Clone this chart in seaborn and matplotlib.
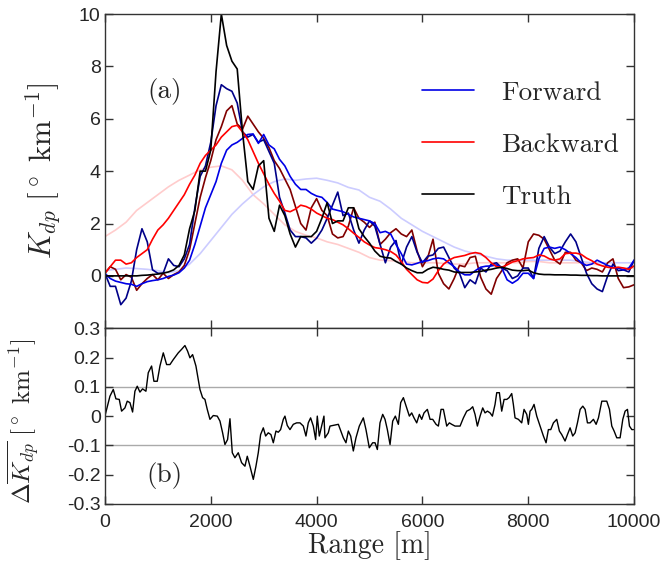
import numpy as np
import seaborn as sns
from matplotlib import pyplot as plt
from matplotlib.lines import Line2D

# values
range_m = np.arange(0, 10001, 100)
range_smooth = np.arange(0, 10001, 200)

truth = [0, 0, 0, 0, 0, 0, 0, 0.02, 0.03, 0.05,
         0.07, 0.1, 0.15, 0.23, 0.4, 0.8, 1.8, 2.5, 4.0, 4.0,
         4.8, 7.8, 10.0, 8.8, 8.2, 7.9, 5.5, 3.6, 3.3, 4.2,
         4.4, 2.2, 1.7, 2.7, 2.3, 1.6, 1.1, 1.5, 1.5, 1.5,
         1.7, 2.2, 2.8, 2.0, 2.1, 2.1, 2.6, 2.6, 1.8, 1.5,
         1.25, 0.95, 0.75, 0.7, 0.68, 0.55, 0.45, 0.3, 0.2, 0.12,
         0.12, 0.25, 0.33, 0.3, 0.25, 0.22, 0.15, 0.13, 0.13, 0.13,
         0.15, 0.17, 0.22, 0.25, 0.3, 0.33, 0.28, 0.22, 0.2, 0.2,
         0.22, 0.12, 0.07, 0.05, 0.05, 0.04, 0.04, 0.04, 0.03, 0.03,
         0.02, 0.02, 0.01, 0.01, 0, 0, 0, 0, 0, 0,
         0]

forward = [0.1, -0.1, -0.2, -0.25, -0.3, -0.32, -0.4, -0.3, -0.22, -0.18,
           -0.15, -0.1, -0.02, 0.03, 0.12, 0.3, 0.6, 1.2, 1.9, 2.6,
           3.1, 3.6, 4.3, 4.8, 5.0, 5.1, 5.25, 5.4, 5.42, 5.06,
           5.4, 5.0, 4.85, 4.45, 4.2, 3.8, 3.5, 3.3, 3.3, 3.15,
           3.05, 3.0, 2.8, 2.55, 2.5, 2.45, 2.35, 2.25, 2.2, 2.15,
           2.1, 2.0, 1.65, 1.7, 1.6, 1.2, 0.85, 0.45, 0.42, 0.48,
           0.55, 0.58, 0.65, 0.68, 0.65, 0.5, 0.35, 0.15, 0.04, 0.04,
           0.2, 0.33, 0.37, 0.38, 0.42, 0.3, -0.15, -0.28, -0.15, 0.1,
           0.1, -0.1, 0.65, 1.05, 1.1, 1.05, 1.1, 1.0, 0.85, 0.7,
           0.5, 0.4, 0.45, 0.6, 0.5, 0.4, 0.32, 0.3, 0.23, 0.3,
           0.6]

backward = [0.1, 0.35, 0.6, 0.6, 0.45, 0.5, 0.7, 0.85, 1.0, 1.4,
            1.75, 1.95, 2.2, 2.5, 2.8, 3.1, 3.5, 3.85, 4.3, 4.6,
            4.8, 5.0, 5.3, 5.5, 5.7, 5.75, 5.5, 5.2, 4.75, 4.3,
            3.9, 3.5, 3.15, 2.85, 2.5, 2.45, 2.55, 2.7, 2.65, 2.55,
            2.4, 2.3, 2.2, 2.15, 2.05, 1.95, 1.8, 1.63, 1.47, 1.3,
            1.18, 1.08, 1.05, 1.0, 0.93, 0.8, 0.55, 0.25, 0.05, -0.15,
            -0.25, -0.27, -0.12, 0.2, 0.45, 0.6, 0.7, 0.74, 0.78, 0.85,
            0.89, 0.85, 0.7, 0.5, 0.35, 0.33, 0.42, 0.53, 0.58, 0.65,
            0.68, 0.7, 0.8, 0.76, 0.65, 0.6, 0.65, 0.85, 0.87, 0.87,
            0.82, 0.68, 0.58, 0.45, 0.38, 0.33, 0.3, 0.33, 0.3, 0.25,
            0.38]

fwd_noisy = [0.1, -0.4, -0.4, -1.1, -0.85, -0.2, 1.0, 1.8, 1.3, 0.23,
             0.1, 0.1, 0.65, 0.4, 0.35, 0.65, 1.2, 2.6, 3.8, 4.2,
             5.1, 6.5, 7.3, 7.15, 7.05, 6.6, 5.5, 5.3, 5.4, 5.1,
             5.2, 4.75, 4.3, 3.0, 2.4, 1.75, 1.5, 1.5, 1.45, 1.25,
             1.44, 1.75, 2.2, 2.7, 3.2, 2.3, 2.4, 1.75, 1.25, 1.75,
             2.1, 1.9, 1.2, 0.5, 1.1, 1.35, 0.45, 1.1, 1.5, 0.9,
             0.5, 0.75, 0.8, 1.05, 1.1, 0.7, 0.3, 0.1, -0.45, -0.15,
             -0.3, 0.3, 0.15, 0.45, 0.5, 0.3, 0.2, -0.1, 0.0, 0.3,
             0.3, -0.1, 1.05, 1.5, 1.1, 0.85, 0.95, 1.3, 1.6, 1.3,
             0.7, 0.1, -0.3, -0.5, -0.6, 0.0, 0.45, 0.2, 0.23, 0.15,
             0.6]

bwd_noisy = [0.1, 0.35, 0.25, -0.15, 0.05, -0.05, -0.55, -0.3, -0.1, 0.05,
             -0.15, 0.1, -0.1, 0.05, 0.15, 0.4, 1.0, 2.0, 3.0, 3.75,
             4.4, 5.2, 5.7, 6.3, 6.5, 5.8, 5.6, 6.1, 5.8, 5.5,
             5.25, 4.9, 4.4, 4.1, 3.7, 3.3, 2.65, 2.0, 1.75, 2.6,
             2.95, 2.5, 2.3, 1.6, 1.45, 1.5, 1.9, 2.6, 2.2, 2.05,
             1.85, 2.05, 1.2, 1.4, 1.65, 1.8, 1.6, 1.5, 1.75, 0.95,
             0.35, 0.7, 1.4, 0.1, -0.3, -0.5, -0.1, 0.4, 0.35, 0.7,
             0.75, -0.05, -0.5, -0.7, -0.1, 0.2, 0.5, 0.6, 0.65, 0.3,
             1.3, 1.6, 1.55, 1.4, 1.0, 0.6, 0.45, 0.9, 0.9, 0.6,
             0.5, 0.2, 0.3, 0.25, 0.15, 0.5, 0.65, -0.1, -0.45, -0.42,
             -0.34]

bwd_prior = [1.5, 1.75, 2.05, 2.5, 2.8,
             3.1, 3.4, 3.65, 3.85, 4.05,
             4.15, 4.2, 4.05, 3.65, 3.1,
             2.75, 2.35, 1.95, 1.7, 1.55,
             1.45, 1.3, 1.2, 1.05, 0.9,
             0.7, 0.6, 0.58, 0.55, 0.5,
             0.5, 0.5, 0.48, 0.45, 0.45,
             0.5, 0.5, 0.5, 0.5, 0.5,
             0.55, 0.55, 0.5, 0.5, 0.5,
             0.5, 0.45, 0.4, 0.35, 0.3,
             0.3]

fwd_prior = [0.2, 0.25, 0.3, 0.28, 0.25,
             0.2, 0.12, 0.2, 0.45, 0.85,
             1.35, 1.85, 2.35, 2.75, 3.1,
             3.4, 3.6, 3.7, 3.65, 3.7,
             3.73, 3.65, 3.55, 3.38, 3.28,
             3.0, 2.85, 2.55, 2.2, 1.95,
             1.7, 1.5, 1.3, 1.1, 0.95,
             0.85, 0.75, 0.65, 0.6, 0.6,
             0.6, 0.6, 0.6, 0.6, 0.6,
             0.55, 0.5, 0.5, 0.5, 0.5,
             0.5]

diff_range = [0, 95, 158, 208, 271, 315, 378, 422, 473, 523,
              567, 611, 662, 712, 775, 819, 882, 926, 989, 1040,
              1103, 1166, 1229, 1292, 1386, 1449, 1512, 1562, 1607, 1657,
              1720, 1764, 1796, 1846, 1890, 1934, 1985, 2048, 2123, 2174,
              2224, 2268, 2318, 2363, 2407, 2457, 2520, 2583, 2646, 2690,
              2741, 2804, 2854, 2898, 2942, 2993, 3037, 3087, 3137, 3182,
              3232, 3276, 3320, 3371, 3402, 3446, 3497, 3560, 3623, 3686,
              3749, 3799, 3843, 3887, 3938, 3982, 4013, 4051, 4095, 4139,
              4158, 4221, 4253, 4411, 4505, 4555, 4600, 4644, 4694, 4744,
              4807, 4883, 4933, 4996, 5059, 5104, 5148, 5198, 5249, 5293,
              5337, 5388, 5438, 5488, 5545, 5589, 5640, 5703, 5753, 5797,
              5841, 5892, 5942, 5986, 6030, 6093, 6144, 6194, 6257, 6301,
              6352, 6396, 6459, 6509, 6553, 6616, 6711, 6774, 6837, 6900,
              6950, 6994, 7038, 7089, 7139, 7183, 7228, 7278, 7322, 7372,
              7404, 7454, 7498, 7543, 7593, 7637, 7687, 7718, 7750, 7813,
              7876, 7920, 7971, 8002, 8034, 8065, 8109, 8160, 8223, 8286,
              8336, 8380, 8425, 8475, 8538, 8588, 8632, 8695, 8740, 8790,
              8840, 8885, 8929, 8980, 9030, 9074, 9118, 9168, 9231, 9282,
              9326, 9389, 9433, 9483, 9534, 9578, 9622, 9672, 9735, 9786,
              9830, 9874, 9912, 9956, 9987]

diff_kdp = [0.0, 0.068, 0.091, 0.059, 0.057, 0.017, 0.028, 0.051, 0.046, 0.014,
            0.085, 0.102, 0.082, 0.093, 0.085, 0.148, 0.171, 0.119, 0.119, 0.171,
            0.216, 0.176, 0.176, 0.193, 0.216, 0.228, 0.241, 0.222, 0.199, 0.21,
            0.171, 0.125, 0.091, 0.063, 0.057, 0.023, -0.011, 0.002, 0.0, -0.017,
            -0.057, -0.097, -0.08, -0.009, -0.125, -0.142, -0.125, -0.159, -0.171, -0.137,
            -0.171, -0.216, -0.171, -0.125, -0.063, -0.04, -0.068, -0.057, -0.063, -0.091,
            -0.051, -0.055, -0.046, -0.011, 0.0, -0.032, -0.046, -0.028, -0.023, -0.023,
            -0.034, -0.068, -0.023, -0.006, -0.034, -0.08, 0.0, -0.068, -0.034, 0.0,
            -0.074, -0.057, -0.034, -0.028, -0.074, -0.091, -0.051, -0.068, -0.119, -0.074,
            -0.034, -0.006, -0.046, -0.108, -0.091, -0.091, -0.114, -0.023, 0.006, -0.011,
            -0.046, -0.097, -0.017, 0.0, -0.028, 0.046, 0.063, 0.028, 0.0, 0.011,
            -0.006, -0.023, 0.006, -0.011, 0.011, 0.023, -0.011, -0.011, -0.028, -0.034,
            0.023, 0.023, -0.034, -0.023, -0.028, -0.034, -0.034, -0.006, 0.017, 0.023,
            0.032, 0.006, -0.034, 0.0, 0.028, 0.011, 0.017, 0.011, 0.0, 0.04,
            0.08, 0.08, 0.017, 0.057, 0.057, 0.063, 0.077, 0.04, -0.006, -0.011,
            -0.023, 0.023, 0.006, -0.028, 0.017, 0.023, 0.04, 0.0, -0.034, -0.068,
            -0.091, -0.046, -0.046, -0.023, -0.011, -0.051, -0.063, -0.085, -0.063, -0.04,
            -0.068, -0.057, -0.023, 0.023, 0.034, 0.023, -0.023, -0.023, -0.011, -0.028,
            -0.006, 0.051, 0.051, 0.051, 0.023, -0.034, -0.051, -0.074, -0.074, -0.011,
            0.017, 0.023, -0.034, -0.046, -0.046]

legend_labels = ['Forward', 'Backward', 'Truth']
kdp_ticks = [0, 2, 4, 6, 8, 10]
diff_ticks = [-0.3, -0.2, -0.1, 0, 0.1, 0.2, 0.3]
diff_ticklabels = ['-0.3', '-0.2', '-0.1', '0', '0.1', '0.2', '0.3']
range_ticks = [0, 2000, 4000, 6000, 8000, 10000]

sns.set_theme(style='ticks')
plt.rcParams['font.family'] = ['Liberation Sans', 'DejaVu Sans']
plt.rcParams['mathtext.fontset'] = 'cm'
plt.rcParams['axes.unicode_minus'] = False
plt.rcParams['xtick.direction'] = 'in'
plt.rcParams['ytick.direction'] = 'in'
plt.rcParams['xtick.top'] = True
plt.rcParams['ytick.right'] = True
plt.rcParams['axes.edgecolor'] = '#333333'
plt.rcParams['axes.linewidth'] = 1.0

fig = plt.figure(figsize=(6.64, 5.68), dpi=100)
ax1 = fig.add_axes([0.158, 0.4221, 0.797, 0.5532])
ax2 = fig.add_axes([0.158, 0.1127, 0.797, 0.3094])

c_fwd, c_bwd = '#0000e6', '#ff0000'
lw = 1.2
sns.lineplot(x=range_smooth, y=bwd_prior, ax=ax1, color='#ffcccc', linewidth=lw, estimator=None)
sns.lineplot(x=range_smooth, y=fwd_prior, ax=ax1, color='#ccccff', linewidth=lw, estimator=None)
sns.lineplot(x=range_m, y=bwd_noisy, ax=ax1, color='#800000', linewidth=lw, estimator=None)
sns.lineplot(x=range_m, y=fwd_noisy, ax=ax1, color='#000088', linewidth=lw, estimator=None)
sns.lineplot(x=range_m, y=forward, ax=ax1, color=c_fwd, linewidth=lw, estimator=None)
sns.lineplot(x=range_m, y=backward, ax=ax1, color=c_bwd, linewidth=lw, estimator=None)
sns.lineplot(x=range_m, y=truth, ax=ax1, color='black', linewidth=lw, estimator=None)

ax1.set_xlim(0, 10000)
ax1.set_ylim(-2, 10)
ax1.set_yticks(kdp_ticks)
ax1.set_xticks(range_ticks)
ax1.set_xticklabels([])
ax1.set_xlabel('')
ax1.tick_params(axis='both', length=6, width=1, labelsize=14, color='#333333')
ax1.tick_params(axis='y', pad=3)
ax1.set_ylabel(r'$K_{dp}\ [^\circ\ \mathrm{km}^{-1}]$', fontsize=22)
ax1.yaxis.set_label_coords(-0.08, 0.5)
ax1.text(0.113, 0.752, '(a)', transform=ax1.transAxes, ha='center', va='center',
         family='cmr10', fontsize=19.5)

handles = [Line2D([], [], color=c, lw=lw) for c in (c_fwd, c_bwd, 'black')]
ax1.legend(handles, legend_labels, loc='upper left', bbox_to_anchor=(0.599, 0.787),
           frameon=False, prop={'family': 'cmr10', 'size': 19.5},
           handlelength=1.92, handletextpad=1.0, labelspacing=1.03,
           borderpad=0, borderaxespad=0)

ax2.axhline(0.1, color='#aaaaaa', lw=1, zorder=0)
ax2.axhline(-0.1, color='#aaaaaa', lw=1, zorder=0)
sns.lineplot(x=diff_range, y=diff_kdp, ax=ax2, color='black', linewidth=1.0, estimator=None)
ax2.set_xlim(0, 10000)
ax2.set_ylim(-0.3, 0.3)
ax2.set_yticks(diff_ticks)
ax2.set_yticklabels(diff_ticklabels)
ax2.set_xticks(range_ticks)
ax2.tick_params(axis='both', length=6, width=1, labelsize=14, color='#333333')
ax2.tick_params(axis='x', pad=7)
ax2.tick_params(axis='y', pad=3)
ax2.set_xlabel('Range [m]', family='cmr10', fontsize=20, labelpad=0)
ax2.set_ylabel(r'$\Delta\overline{K_{dp}}\ [^\circ\ \mathrm{km}^{-1}]$', fontsize=18)
ax2.yaxis.set_label_coords(-0.119, 0.47)
ax2.text(0.113, 0.16, '(b)', transform=ax2.transAxes, ha='center', va='center',
         family='cmr10', fontsize=19.5)

fig.savefig('out.png', dpi=100)
